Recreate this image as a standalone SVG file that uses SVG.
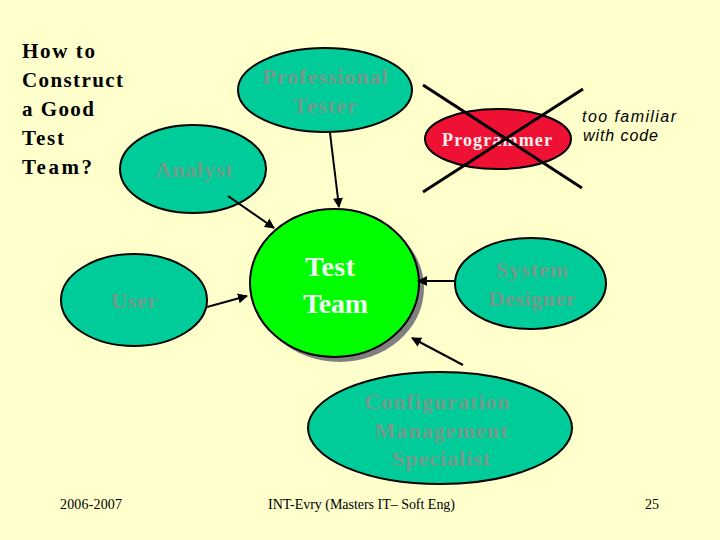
<svg xmlns="http://www.w3.org/2000/svg" width="720" height="540" viewBox="0 0 720 540">
  <style>
    .node { fill: #00CC99; stroke: #000; stroke-width: 2; }
    .lbl { font-family: "Liberation Serif", "Times New Roman", serif; font-weight: bold; font-size: 22px; fill: #739A8B; text-anchor: middle; }
    .title { font-family: "Liberation Serif", "Times New Roman", serif; font-weight: bold; font-size: 21px; fill: #000; }
    .foot { font-family: "Liberation Serif", "Times New Roman", serif; font-size: 14px; fill: #000; }
    .conn { stroke: #000; stroke-width: 2; fill: none; marker-end: url(#arr); }
  </style>
  <defs>
    <marker id="arr" viewBox="0 0 10 10" refX="9" refY="5" markerWidth="5" markerHeight="5" orient="auto" markerUnits="strokeWidth">
      <path d="M0,0 L10,5 L0,10 z" fill="#000"/>
    </marker>
  </defs>
  <rect width="720" height="540" fill="#FFFFCC"/>

  <g id="title">
    <text class="title" x="22" y="58" textLength="73">How to</text>
    <text class="title" x="22" y="87" textLength="101">Construct</text>
    <text class="title" x="22" y="116" textLength="72">a Good</text>
    <text class="title" x="22" y="145" textLength="42">Test</text>
    <text class="title" x="22" y="174" textLength="70">Team?</text>
  </g>

  <g id="professional-tester">
    <ellipse class="node" cx="325" cy="90" rx="87" ry="42"/>
    <text class="lbl" x="325" y="84" textLength="125">Professional</text>
    <text class="lbl" x="325" y="113" textLength="64">Tester</text>
  </g>

  <g id="analyst">
    <ellipse class="node" cx="193" cy="169" rx="73" ry="44"/>
    <text class="lbl" x="194" y="177" textLength="77">Analyst</text>
  </g>

  <g id="user">
    <ellipse class="node" cx="134" cy="300" rx="73" ry="46"/>
    <text class="lbl" x="134" y="308" textLength="46">User</text>
  </g>

  <g id="system-designer">
    <ellipse class="node" cx="530.5" cy="283.5" rx="75.5" ry="45.5"/>
    <text class="lbl" x="532" y="277" textLength="72">System</text>
    <text class="lbl" x="532" y="306" textLength="87">Designer</text>
  </g>

  <g id="config-specialist">
    <ellipse class="node" cx="440" cy="428" rx="132" ry="56"/>
    <text class="lbl" x="437" y="409" textLength="145">Configuration</text>
    <text class="lbl" x="441" y="438" textLength="133">Management</text>
    <text class="lbl" x="441" y="466" textLength="98">Specialist</text>
  </g>

  <g id="test-team">
    <ellipse cx="339.5" cy="288" rx="84.5" ry="74" fill="#808080"/>
    <ellipse cx="334.5" cy="283" rx="84.5" ry="74" fill="#00FF00" stroke="#000" stroke-width="2"/>
    <text x="305" y="276" font-family="Liberation Serif, Times New Roman, serif" font-weight="bold" font-size="28" fill="#F0FFF0" textLength="50">Test</text>
    <text x="303" y="313" font-family="Liberation Serif, Times New Roman, serif" font-weight="bold" font-size="28" fill="#F0FFF0" textLength="65">Team</text>
  </g>

  <g id="programmer">
    <ellipse cx="498" cy="139" rx="73" ry="30" fill="#EE1133" stroke="#000" stroke-width="2"/>
    <text x="497" y="146" text-anchor="middle" font-family="Liberation Serif, Times New Roman, serif" font-weight="bold" font-size="18" fill="#FFEEEE" textLength="110">Programmer</text>
    <line x1="423" y1="85" x2="582" y2="188" stroke="#000" stroke-width="3"/>
    <line x1="583" y1="89" x2="423" y2="192" stroke="#000" stroke-width="3"/>
  </g>

  <g id="note">
    <text x="582" y="122" font-family="Liberation Sans, Arial, sans-serif" font-style="italic" font-size="16" fill="#000" textLength="94">too familiar</text>
    <text x="583" y="141" font-family="Liberation Sans, Arial, sans-serif" font-style="italic" font-size="16" fill="#000" textLength="75">with code</text>
  </g>

  <g id="connectors">
    <line class="conn" x1="330" y1="133" x2="339" y2="207"/>
    <line class="conn" x1="228" y1="196" x2="274" y2="228"/>
    <line class="conn" x1="207" y1="307" x2="247" y2="296"/>
    <line class="conn" x1="455" y1="281" x2="418" y2="281"/>
    <line class="conn" x1="463" y1="365" x2="412" y2="338"/>
  </g>

  <g id="footer">
    <text class="foot" x="60" y="509" textLength="62">2006-2007</text>
    <text class="foot" x="268" y="509" textLength="187">INT-Evry (Masters IT– Soft Eng)</text>
    <text class="foot" x="645" y="509" textLength="14">25</text>
  </g>
</svg>
